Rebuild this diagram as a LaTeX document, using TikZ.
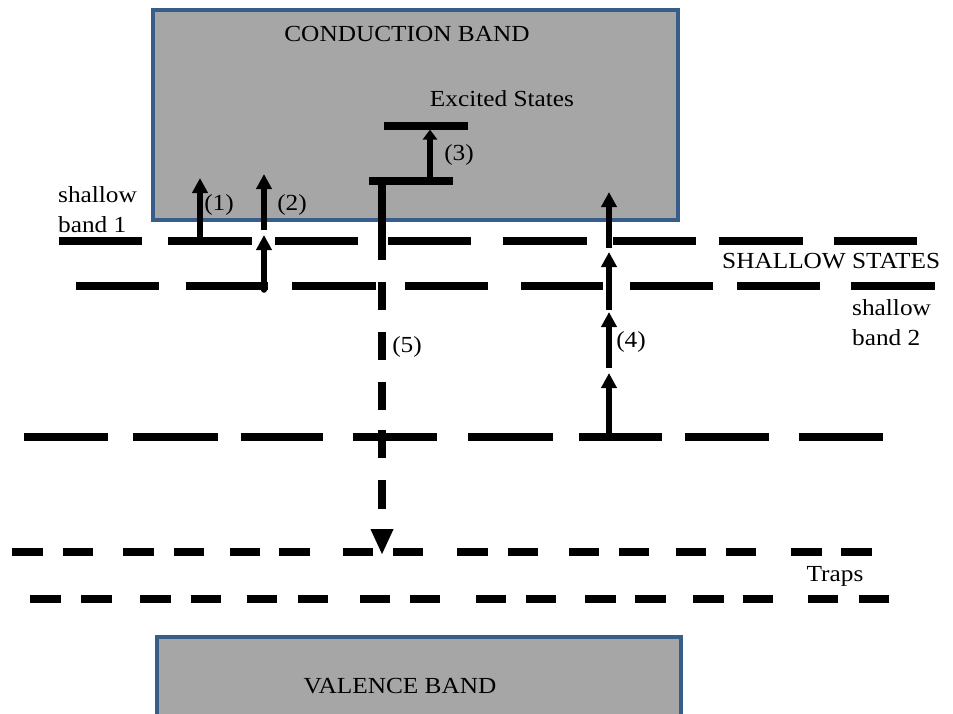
\documentclass[tikz,border=0pt]{standalone}
\usepackage{fontspec}
\setmainfont{Liberation Serif}[FakeStretch=1.1]
\usetikzlibrary{arrows.meta}
\definecolor{bandfill}{HTML}{A6A6A6}
\definecolor{bandedge}{HTML}{385D8A}
\begin{document}
\begin{tikzpicture}[x=1pt,y=-1pt,
  band/.style={draw=bandedge, fill=bandfill, line width=4.5pt, rectangle, inner sep=0pt},
  lbl/.style={font=\fontsize{23}{30}\selectfont, inner sep=0pt},
  lev/.style={line width=8pt},
  arr/.style={line width=5.5pt, -{Triangle[width=15pt,length=15pt]}},
]
\useasboundingbox (0,0) rectangle (953,713);
% bands
\node[band, minimum width=525pt, minimum height=210pt] (cb) at (415.5,115) {};
\node[band, minimum width=524pt, minimum height=83pt] (vb) at (419,678.5) {};
% shallow band 1
\foreach \a/\b in {59/142,168/252,275/358,388/471,503/587,613/696,719/803,834/917}
  \draw[lev] (\a,241) -- (\b,241);
% shallow band 2
\foreach \a/\b in {76/159,186/268,292/376,405/488,521/603,630/713,737/820,851/935}
  \draw[lev] (\a,286) -- (\b,286);
% deeper level
\foreach \a/\b in {24/108,133/218,241/323,353/437,468/553,579/662,685/769,799/883}
  \draw[lev] (\a,437) -- (\b,437);
% traps
\foreach \a/\b in {12/43,63/93,123/154,174/204,230/260,279/310,343/373,393/423,457/488,508/538,569/599,619/649,676/706,726/756,791/822,841/872}
  \draw[lev] (\a,552) -- (\b,552);
\foreach \a/\b in {30/61,81/112,140/171,191/221,247/277,298/328,360/390,410/440,476/506,526/556,585/616,635/666,693/724,743/773,808/838,859/889}
  \draw[lev] (\a,599) -- (\b,599);
% excited states
\coordinate (e1a) at (369,181); \coordinate (e1b) at (453,181);
\coordinate (e2a) at (384,125.5); \coordinate (e2b) at (468,125.5);
\draw[lev] (e1a) -- (e1b);
\draw[lev] (e2a) -- (e2b);
% arrow (3)
\coordinate (a3s) at (430,177); \coordinate (a3e) at (430,129.5);
\draw[line width=5.5pt, -{Triangle[width=14pt,length=10pt]}] (a3s) -- (a3e);
% arrow (1)
\coordinate (a1s) at (200,237); \coordinate (a1e) at (200,178);
\draw[arr] (a1s) -- (a1e);
% arrow (2)
\coordinate (a2s) at (264,290); \coordinate (a2m) at (264,235);
\coordinate (a2t) at (264,230); \coordinate (a2e) at (264,174);
\draw[arr, line cap=round] (a2s) -- (a2m);
\draw[arr] (a2t) -- (a2e);
% arrow (4)
\coordinate (a4a) at (609,437); \coordinate (a4b) at (609,373);
\coordinate (a4c) at (609,368); \coordinate (a4d) at (609,312);
\coordinate (a4e) at (609,310); \coordinate (a4f) at (609,252);
\coordinate (a4g) at (609,248); \coordinate (a4h) at (609,192);
\draw[arr] (a4a) -- (a4b);
\draw[arr] (a4c) -- (a4d);
\draw[arr] (a4e) -- (a4f);
\draw[arr] (a4g) -- (a4h);
% arrow (5)
\coordinate (a5s) at (382,177); \coordinate (a5e) at (382,555);
\draw[line width=8pt, dash pattern=on 83pt off 22pt on 28pt off 22pt on 28pt off 22pt on 28pt off 20pt on 28pt off 22pt on 29pt off 60pt,
  -{Triangle[width=21pt,length=26pt]}] (a5s) -- (a5e);
% labels
\node[lbl] (cbt) at (407,34) {CONDUCTION BAND};
\node[lbl] (ext) at (502,99) {Excited States};
\node[lbl] (l3) at (459,155) {(3)};
\node[lbl, align=left, anchor=west] (sb1) at (58,210) {shallow\\band 1};
\node[lbl] (l1) at (219,205) {(1)};
\node[lbl] (l2) at (292,205) {(2)};
\node[lbl, anchor=west] (ss) at (722,261) {SHALLOW STATES};
\node[lbl, align=left, anchor=west] (sb2) at (852,323) {shallow\\band 2};
\node[lbl] (l4) at (631,342) {(4)};
\node[lbl] (l5) at (407,347) {(5)};
\node[lbl] (tr) at (835,576) {Traps};
\node[lbl] (vbt) at (400,686) {VALENCE BAND};
\end{tikzpicture}
\end{document}
